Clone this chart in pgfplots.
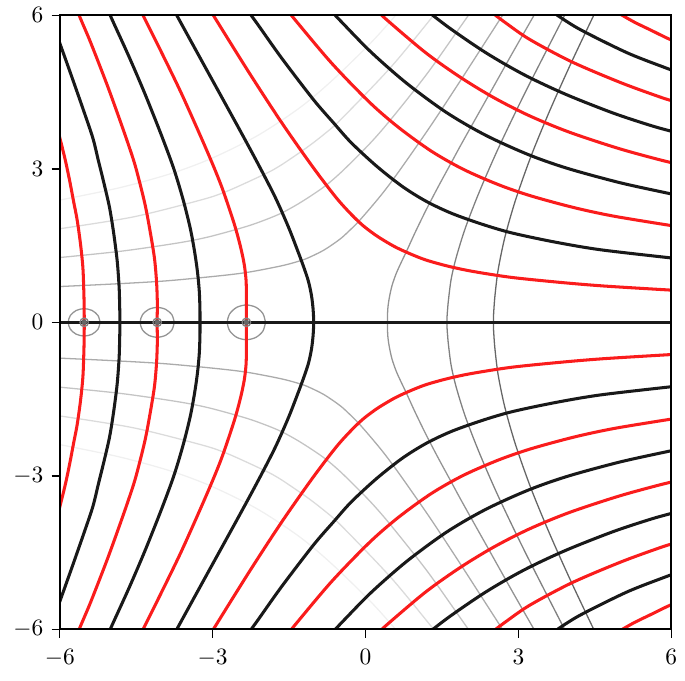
\documentclass[border=0pt]{standalone}
\usepackage{pgfplots}
\usepackage{pgfplotstable}
\pgfplotsset{compat=1.18}
\definecolor{phred}{RGB}{250,28,28}
\definecolor{phblack}{RGB}{25,25,25}

% contour lines of the upper half plane, the lower half is the mirror image
% phase contours, arg = k*pi/2 (red: Re=0, black: Im=0)
\pgfplotstableread{
x y
-6.14 4.12
-6.00 3.61
-5.887 3.152
-5.80 2.74
-5.729 2.366
-5.66 2.01
-5.592 1.527
-5.545 1.053
-5.525 0.507
-5.52 0.2
-5.52 0
}\km
\pgfplotstableread{
x y
-6.02 5.515
-5.90 5.18
-5.75 4.76
-5.529 4.13
-5.35 3.60
-5.24 3.152
-5.14 2.75
-5.025 2.253
-4.944 1.758
-4.873 1.201
-4.835 0.689
-4.825 0.343
-4.82 0.12
-4.82 0
}\kmm
\pgfplotstableread{
x y
-5.75 6.31
-5.56 5.86
-5.39 5.46
-5.07 4.64
-4.838 4.002
-4.655 3.48
-4.51 3.03
-4.33 2.32
-4.22 1.74
-4.14 1.24
-4.10 0.78
-4.085 0.375
-4.088 0.12
-4.088 0
}\kmmm
\pgfplotstableread{
x y
-5.08 6.16
-4.96 5.89
-4.64 5.19
-4.33 4.47
-4.01 3.67
-3.763 3.004
-3.58 2.40
-3.44 1.842
-3.355 1.386
-3.298 0.99
-3.263 0.62
-3.25 0.30
-3.248 0.1
-3.248 0
}\kmmmm
\pgfplotstableread{
x y
-4.58 6.43
-4.36 5.99
-4.00 5.27
-3.62 4.49
-3.22 3.60
-2.962 3.0
-2.79 2.56
-2.575 1.92
-2.453 1.476
-2.38 1.13
-2.345 0.83
-2.338 0.57
-2.338 0.30
-2.338 0.1
-2.338 0
}\kmmmmm
\pgfplotstableread{
x y
-3.94 6.43
-3.23 5.14
-2.49 3.80
-2.10 3.08
-1.77 2.44
-1.52 1.88
-1.37 1.50
-1.22 1.10
-1.12 0.80
-1.06 0.52
-1.03 0.27
-1.02 0.1
-1.02 0
}\kzero
\pgfplotstableread{
x y
6.19 0.62
5.99 0.63
4.68 0.71
3.83 0.78
2.85 0.88
2.08 1.00
1.61 1.10
1.18 1.22
0.85 1.35
0.57 1.48
0.28 1.65
0.12 1.76
-0.06 1.90
-0.27 2.10
-0.57 2.43
-1.03 3.03
-1.65 3.91
-2.31 4.92
-3.06 6.12
}\kone
\pgfplotstableread{
x y
6.14 1.245
5.94 1.265
4.60 1.42
3.71 1.57
2.86 1.75
2.28 1.92
1.69 2.13
1.20 2.36
0.73 2.65
0.22 3.05
-0.28 3.51
-0.62 3.89
-1.02 4.35
-1.65 5.17
-2.12 5.83
-2.34 6.13
}\ktwo
\pgfplotstableread{
x y
6.07 1.88
4.90 2.07
4.10 2.24
3.25 2.47
2.61 2.69
1.92 2.99
1.30 3.34
0.66 3.80
0.09 4.29
-0.66 5.06
-1.38 5.91
-1.57 6.15
}\kthree
\pgfplotstableread{
x y
6.19 2.47
5.95 2.52
4.99 2.73
3.96 3.01
3.19 3.28
2.35 3.66
1.59 4.10
0.81 4.67
0.11 5.28
-0.46 5.86
-0.81 6.23
}\kfour
\pgfplotstableread{
x y
6.32 3.05
5.80 3.17
4.96 3.40
3.99 3.72
3.21 4.04
2.52 4.39
1.86 4.79
1.18 5.27
0.42 5.91
0.13 6.18
}\kfive
\pgfplotstableread{
x y
6.06 3.72
5.62 3.84
4.86 4.09
3.92 4.46
3.11 4.84
2.36 5.27
1.61 5.78
1.07 6.20
}\ksix
\pgfplotstableread{
x y
6.05 4.32
5.79 4.40
5.02 4.68
4.05 5.09
3.22 5.53
2.74 5.86
2.50 6.04
}\kseven
\pgfplotstableread{
x y
6.07 4.91
5.90 4.97
5.13 5.27
4.18 5.74
3.68 6.06
}\keight
\pgfplotstableread{
x y
6.12 5.48
5.95 5.54
5.60 5.71
5.27 5.87
4.97 6.04
}\knine

% modulus contours, |Ai| = 4^n
\pgfplotstableread{
x y
2.51 0
2.51 0.10
2.52 0.28
2.542 0.548
2.603 1.033
2.734 1.663
2.946 2.40
3.25 3.255
3.617 4.143
4.043 5.089
4.483 6.013
}\gsixtyfourth
\pgfplotstableread{
x y
1.60 0
1.60 0.12
1.61 0.25
1.625 0.42
1.68 0.844
1.78 1.271
1.96 1.848
2.237 2.561
2.612 3.416
3.143 4.514
3.924 6.037
}\gsixteenth
\pgfplotstableread{
x y
0.43 0
0.43 0.12
0.44 0.30
0.47 0.50
0.52 0.72
0.60 0.95
0.69 1.15
0.80 1.38
0.97 1.75
1.19 2.20
1.42 2.64
1.66 3.08
1.90 3.52
2.39 4.39
2.88 5.26
3.38 6.13
}\gquarter
\pgfplotstableread{
x y
-6.06 0.697
-4.94 0.75
-3.92 0.81
-2.86 0.91
-2.30 0.98
-1.67 1.10
-1.36 1.18
-1.15 1.25
-0.82 1.41
-0.51 1.62
-0.34 1.77
-0.11 2.00
0.30 2.48
0.64 2.93
1.25 3.80
1.82 4.66
2.37 5.51
2.70 6.02
}\gone
\pgfplotstableread{
x y
-6.07 1.26
-4.80 1.39
-3.69 1.55
-3.08 1.67
-2.35 1.87
-1.95 2.01
-1.64 2.14
-1.33 2.31
-1.03 2.50
-0.76 2.69
-0.44 2.97
0.09 3.50
0.50 3.97
1.20 4.85
1.82 5.72
2.06 6.06
}\gfour
\pgfplotstableread{
x y
-6.03 1.825
-4.56 2.06
-3.20 2.40
-2.75 2.55
-2.36 2.72
-1.91 2.93
-1.745 3.02
-1.585 3.12
-1.175 3.40
-0.84 3.655
-0.48 3.97
0.49 4.98
1.23 5.87
1.37 6.05
}\gsixteen
\pgfplotstableread{
x y
-6.05 2.38
-4.83 2.63
-3.81 2.91
-3.01 3.21
-2.11 3.655
-1.27 4.21
-0.62 4.76
0.14 5.50
0.65 6.07
}\gsixtyfour

\newcommand{\both}[2]{%
  \addplot[#1] table[x=x,y=y] {#2};
  \addplot[#1] table[x=x,y expr=-\thisrow{y}] {#2};
}

\begin{document}
\begin{tikzpicture}
\begin{axis}[
  scale only axis,
  width=261pt, height=262pt,
  xmin=-6, xmax=6, ymin=-6, ymax=6,
  xtick={-6,-3,0,3,6}, ytick={-6,-3,0,3,6},
  tick pos=left, tick align=outside,
  major tick length=3.5pt,
  tick style={black, line width=0.6pt},
  xticklabel style={yshift=-1.5pt},
  axis line style={line width=0.8pt},
  axis on top,
  ph/.style={line width=1.3pt, smooth},
  phr/.style={ph, color=phred},
  phk/.style={ph, color=phblack},
  gr/.style={line width=0.55pt, smooth, color=#1},
]
% modulus lines
\both{gr=black!6}{\gsixtyfour}
\both{gr=black!14}{\gsixteen}
\both{gr=black!23}{\gfour}
\both{gr=black!33}{\gone}
\both{gr=black!42}{\gquarter}
\both{gr=black!50}{\gsixteenth}
\both{gr=black!60}{\gsixtyfourth}
% closed modulus lines round the zeros
\addplot[gr=black!42] coordinates {
(-1.963,0) (-2.013,0.170) (-2.1505,0.294) (-2.338,0.34) (-2.5255,0.294) (-2.663,0.170)
(-2.713,0) (-2.663,-0.170) (-2.5255,-0.294) (-2.338,-0.34) (-2.1505,-0.294) (-2.013,-0.170) (-1.963,0)};
\addplot[gr=black!42] coordinates {
(-3.753,0) (-3.798,0.146) (-3.9205,0.253) (-4.088,0.292) (-4.2555,0.253) (-4.378,0.146)
(-4.423,0) (-4.378,-0.146) (-4.2555,-0.253) (-4.088,-0.292) (-3.9205,-0.253) (-3.798,-0.146) (-3.753,0)};
\addplot[gr=black!42] coordinates {
(-5.208,0) (-5.250,0.134) (-5.3645,0.232) (-5.521,0.268) (-5.6775,0.232) (-5.792,0.134)
(-5.834,0) (-5.792,-0.134) (-5.6775,-0.232) (-5.521,-0.268) (-5.3645,-0.232) (-5.250,-0.134) (-5.208,0)};
\addplot[only marks, mark=o, mark size=1.8pt, mark options={black!50, line width=0.55pt}]
  coordinates {(-2.338,0) (-4.088,0) (-5.521,0)};
% phase lines
\both{phr}{\km}
\both{phk}{\kmm}
\both{phr}{\kmmm}
\both{phk}{\kmmmm}
\both{phr}{\kmmmmm}
\both{phk}{\kzero}
\both{phr}{\kone}
\both{phk}{\ktwo}
\both{phr}{\kthree}
\both{phk}{\kfour}
\both{phr}{\kfive}
\both{phk}{\ksix}
\both{phr}{\kseven}
\both{phk}{\keight}
\both{phr}{\knine}
\addplot[phk] coordinates {(-6,0) (6,0)};
\addplot[only marks, mark=*, mark size=1.0pt, mark options={black!60, draw=none}]
  coordinates {(-2.338,0) (-4.088,0) (-5.521,0)};
\end{axis}
\path (current axis.south west) ++(-25.5pt,-22pt);
\path (current axis.north east) ++(5pt,6.5pt);
\end{tikzpicture}
\end{document}
